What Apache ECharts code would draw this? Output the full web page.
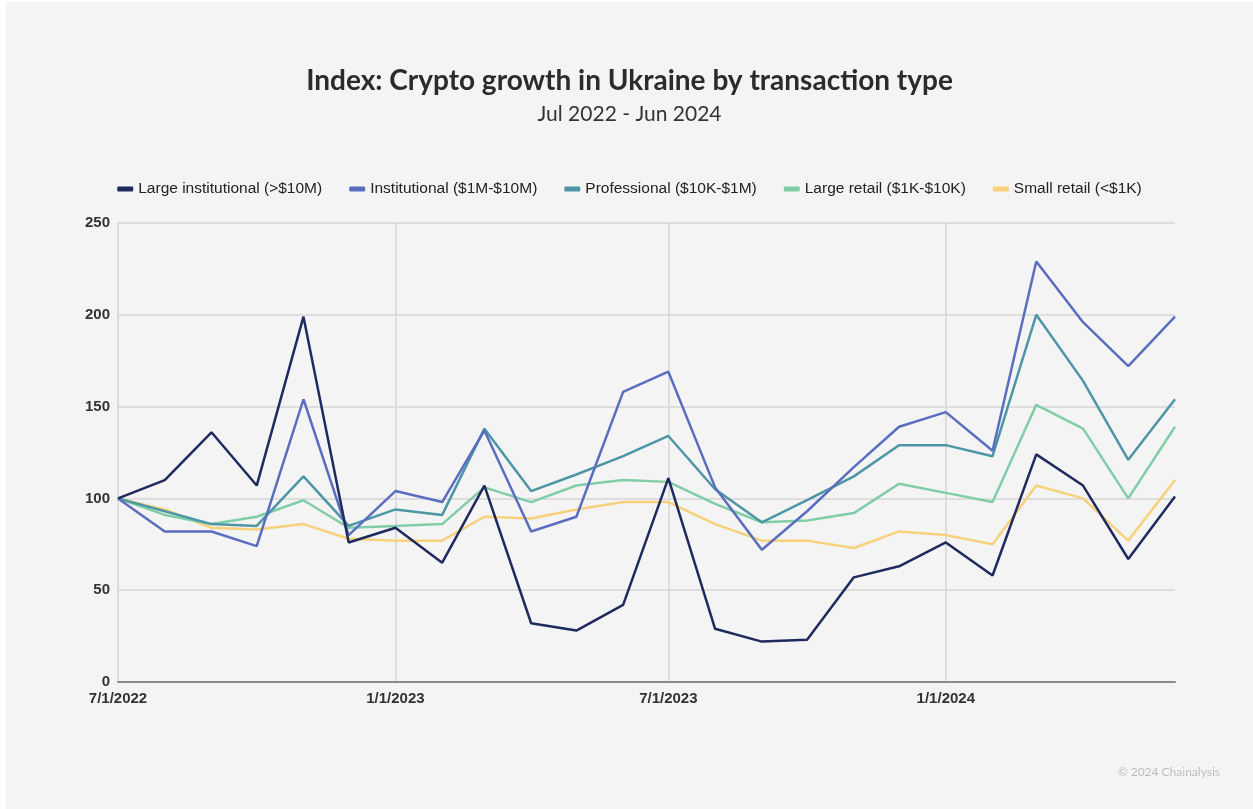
<!DOCTYPE html>
<html>
<head>
<meta charset="utf-8">
<script src="https://cdn.jsdelivr.net/npm/echarts@6/dist/echarts.min.js"></script>
<style>
html,body{margin:0;padding:0;background:#ffffff;width:1253px;height:809px;overflow:hidden;}
#chart{position:absolute;left:6px;top:2px;width:1247px;height:807px;background:#f4f4f4;}
</style>
</head>
<body>
<div id="chart"></div>
<script>
const months = ['2022-07-01','2022-08-01','2022-09-01','2022-10-01','2022-11-01','2022-12-01',
  '2023-01-01','2023-02-01','2023-03-01','2023-04-01','2023-05-01','2023-06-01',
  '2023-07-01','2023-08-01','2023-09-01','2023-10-01','2023-11-01','2023-12-01',
  '2024-01-01','2024-02-01','2024-03-01','2024-04-01','2024-05-01','2024-06-01'];
const tickDates = ['2022-07-01','2023-01-01','2023-07-01','2024-01-01'];
const yTicks = [0, 50, 100, 150, 200, 250];
const seriesNames = ['Large institutional (>$10M)','Institutional ($1M-$10M)','Professional ($10K-$1M)','Large retail ($1K-$10K)','Small retail (<$1K)'];
const largeInstitutional = [100,110,136,107,199,76,84,65,107,32,28,42,111,29,22,23,57,63,76,58,124,107,67,101];
const institutional = [100,82,82,74,154,80,104,98,137,82,90,158,169,106,72,93,117,139,147,126,229,196,172,199];
const professional = [100,93,86,85,112,85,94,91,138,104,113,123,134,105,87,99,112,129,129,123,200,164,121,154];
const largeRetail = [100,91,86,90,99,84,85,86,106,98,107,110,109,97,87,88,92,108,103,98,151,138,100,139];
const smallRetail = [100,94,84,83,86,78,77,77,90,89,94,98,98,86,77,77,73,82,80,75,107,100,77,110];
const colors = ['#1f2a5e','#5a6dbf','#4d96a5','#80cda8','#f7d17c'];

function toTs(s){ const p = s.split('-').map(Number); return Date.UTC(p[0], p[1]-1, p[2]); }
const allValues = [largeInstitutional, institutional, professional, largeRetail, smallRetail];
const tickTs = tickDates.map(toTs);

const chart = echarts.init(document.getElementById('chart'));
chart.setOption({
  backgroundColor: '#f4f4f4',
  animation: false,
  color: colors,
  title: [{
    text: 'Index: Crypto growth in Ukraine by transaction type',
    left: 'center', top: 60,
    textStyle: {fontFamily: 'Lato', fontWeight: 'bold', fontSize: 28, color: '#2b2b2b'}
  },{
    text: 'Jul 2022 - Jun 2024',
    left: 'center', top: 97,
    textStyle: {fontFamily: 'Lato', fontWeight: 'normal', fontSize: 21, color: '#333'}
  }],
  legend: {
    top: 174, left: 'center',
    icon: 'roundRect', itemWidth: 16, itemHeight: 5, itemGap: 27, itemTextGap: 10,
    textStyle: {fontFamily: 'Liberation Sans', fontSize: 15.5, color: '#222'},
    data: seriesNames
  },
  grid: {left: 112, right: 78, top: 221, bottom: 127, containLabel: false},
  xAxis: {
    type: 'value',
    min: toTs(months[0]), max: toTs(months[months.length-1]),
    axisLine: {show: true, lineStyle: {color: '#8a8a8a', width: 2}},
    axisTick: {show: false, customValues: tickTs},
    axisLabel: {
      customValues: tickTs,
      fontFamily: 'Liberation Sans', fontWeight: 'bold', fontSize: 15, color: '#333', margin: 9,
      formatter: function(v){ const d = new Date(v); return (d.getUTCMonth()+1)+'/'+d.getUTCDate()+'/'+d.getUTCFullYear(); }
    },
    splitLine: {show: true, lineStyle: {color: '#d6d6d6', width: 1.5}}
  },
  yAxis: {
    type: 'value', min: yTicks[0], max: yTicks[yTicks.length-1], interval: 50,
    axisLine: {show: false}, axisTick: {show: false},
    axisLabel: {fontFamily: 'Liberation Sans', fontWeight: 'bold', fontSize: 15, color: '#333', margin: 8},
    splitLine: {lineStyle: {color: '#d6d6d6', width: 1.5}}
  },
  graphic: [{
    type: 'text', right: 33, top: 764,
    style: {text: '© 2024 Chainalysis', fontFamily: 'Lato', fontSize: 12, fill: '#bdbdbd'}
  }],
  series: seriesNames.map(function(name, i){
    return {
      name: name, type: 'line', showSymbol: false, symbol: 'none',
      lineStyle: {width: 2.5, color: colors[i]},
      itemStyle: {color: colors[i]},
      z: 10 - i,
      data: months.map(function(m, j){ return [toTs(m), allValues[i][j]]; })
    };
  })
});
</script>
</body>
</html>
